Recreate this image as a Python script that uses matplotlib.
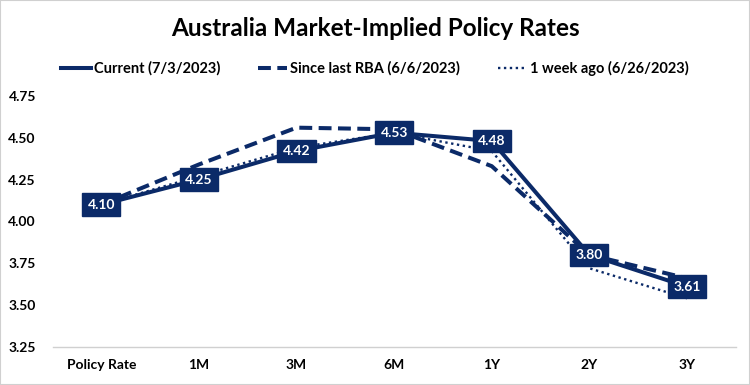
import matplotlib
matplotlib.use("Agg")
import matplotlib.pyplot as plt
from matplotlib.patches import Rectangle

plt.rcParams['font.family'] = ['Lato', 'DejaVu Sans']
plt.rcParams['font.weight'] = 'bold'

tenors = ['Policy Rate', '1M', '3M', '6M', '1Y', '2Y', '3Y']
current = [4.10, 4.25, 4.42, 4.53, 4.48, 3.80, 3.61]
since_rba = [4.10, 4.34, 4.56, 4.55, 4.33, 3.80, 3.66]
week_ago = [4.10, 4.27, 4.44, 4.53, 4.42, 3.72, 3.54]

navy = '#0B2A68'

fig = plt.figure(figsize=(7.5, 3.85), dpi=100)
fig.patches.append(Rectangle((0, 0), 1, 1, transform=fig.transFigure,
                             fill=False, edgecolor='#D0D0D0', lw=1.5))
ax = fig.add_axes([0.07, 0.099, 0.911, 0.652])

x = range(len(tenors))
ax.plot(x, week_ago, color=navy, lw=1.7, ls=(0, (1, 1.5)),
        label='1 week ago (6/26/2023)', zorder=2)
ax.plot(x, since_rba, color=navy, lw=2.9, ls=(0, (3.2, 1.6)),
        label='Since last RBA (6/6/2023)', zorder=2)
ax.plot(x, current, color=navy, lw=2.9, label='Current (7/3/2023)', zorder=3)

for i, v in enumerate(current):
    ax.text(i, v, f'{v:.2f}', ha='center', va='center', color='white',
            fontsize=10, fontweight='bold', zorder=5,
            bbox=dict(boxstyle='square,pad=0.38', fc=navy, ec=navy))

ax.set_xlim(-0.5, len(tenors) - 0.5)
ax.set_ylim(3.25, 4.75)
ax.set_yticks([3.25, 3.50, 3.75, 4.00, 4.25, 4.50, 4.75])
ax.set_yticklabels([f'{t:.2f}' for t in ax.get_yticks()])
ax.set_xticks(list(x))
ax.set_xticklabels(tenors)
ax.tick_params(length=0, labelsize=10, colors='black', pad=9)
ax.tick_params(axis='y', pad=12)
for lab in ax.get_xticklabels() + ax.get_yticklabels():
    lab.set_fontweight('bold')
for s in ['top', 'right', 'left']:
    ax.spines[s].set_visible(False)
ax.spines['bottom'].set_color('#D0D0D0')
ax.spines['bottom'].set_linewidth(1)

fig.text(0.5, 0.925, 'Australia Market-Implied Policy Rates', ha='center',
         va='center', fontsize=17.5, fontweight='bold')

h, l = ax.get_legend_handles_labels()
order = [2, 1, 0]
fig.legend([h[i] for i in order], [l[i] for i in order], loc='center',
           bbox_to_anchor=(0.5, 0.823), ncol=3, frameon=False,
           fontsize=10.5, handlelength=2.0, handletextpad=0.2, columnspacing=2.6)

fig.savefig('out.png', dpi=100)
